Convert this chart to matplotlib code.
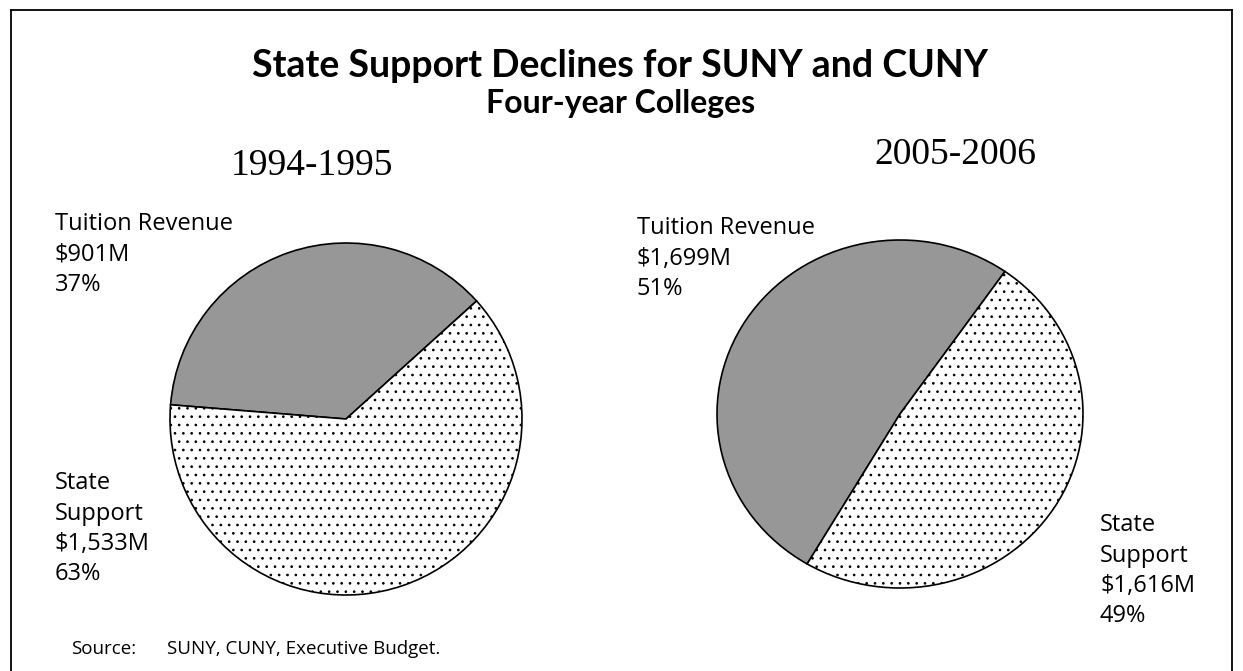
import matplotlib
matplotlib.use("Agg")
import matplotlib.pyplot as plt
from matplotlib.lines import Line2D

# data ($ millions)
labels = ["Tuition Revenue", "State Support"]
vals_1995 = [901, 1533]
vals_2006 = [1699, 1616]
pct_1995 = [37, 63]
pct_2006 = [51, 49]
years = ["1994-1995", "2005-2006"]

gray = "#979797"
plt.rcParams["hatch.linewidth"] = 0.7

fig = plt.figure(figsize=(12.43, 6.71), dpi=100)
fig.patch.set_facecolor("white")

head = ["Lato", "DejaVu Sans"]
body = ["Open Sans", "DejaVu Sans"]
serif = ["Liberation Serif", "DejaVu Serif"]

# frame (bottom edge is cut off in the original)
for xs, ys in [([11/1243, 11/1243], [0, 1 - 10/671]),
               ([11/1243, 1232/1243], [1 - 10/671, 1 - 10/671]),
               ([1232/1243, 1232/1243], [0, 1 - 10/671])]:
    fig.add_artist(Line2D(xs, ys, color="black", lw=1.3))

fig.text(0.499, 1 - 66/671, "State Support Declines for SUNY and CUNY",
         ha="center", va="center", fontsize=27, fontweight="bold", family=head)
fig.text(0.499, 1 - 104/671, "Four-year Colleges",
         ha="center", va="center", fontsize=23, fontweight="bold", family=head)


def draw_pie(rect, vals, start):
    ax = fig.add_axes(rect)
    wedges, _ = ax.pie(vals, startangle=start, colors=[gray, "white"],
                       wedgeprops=dict(edgecolor="black", linewidth=1.2))
    wedges[1].set_hatch("..")
    ax.set_aspect("auto")
    ax.set_xlim(-1.0, 1.0)
    ax.set_ylim(-1.0, 1.0)
    ax.axis("off")
    return ax


draw_pie([170/1243, 1 - 595/671, 352/1243, 352/671], vals_1995, 42.1)
draw_pie([717/1243, 1 - 588/671, 366/1243, 348/671], vals_2006, 55)

fig.text(312/1243, 1 - 166/671, years[0], ha="center", va="center",
         fontsize=27, family=serif)
fig.text(955/1243, 1 - 155/671, years[1], ha="center", va="center",
         fontsize=27, family=serif)


def money(v):
    return "${:,}M".format(v)


def label(x, y, lines):
    for i, s in enumerate(lines):
        fig.text(x / 1243, 1 - (y + i * 30.5) / 671, s, ha="left", va="center",
                 fontsize=17, family=body)


label(55, 224, [labels[0], money(vals_1995[0]), f"{pct_1995[0]}%"])
label(55, 483, ["State", "Support", money(vals_1995[1]), f"{pct_1995[1]}%"])
label(637, 228, [labels[0], money(vals_2006[0]), f"{pct_2006[0]}%"])
label(1100, 525, ["State", "Support", money(vals_2006[1]), f"{pct_2006[1]}%"])

fig.text(71/1243, 1 - 649/671, "Source:", ha="left", va="center",
         fontsize=13.5, family=body)
fig.text(167/1243, 1 - 649/671, "SUNY, CUNY, Executive Budget.", ha="left",
         va="center", fontsize=13.5, family=body)

fig.savefig("out.png", dpi=100, facecolor="white")
